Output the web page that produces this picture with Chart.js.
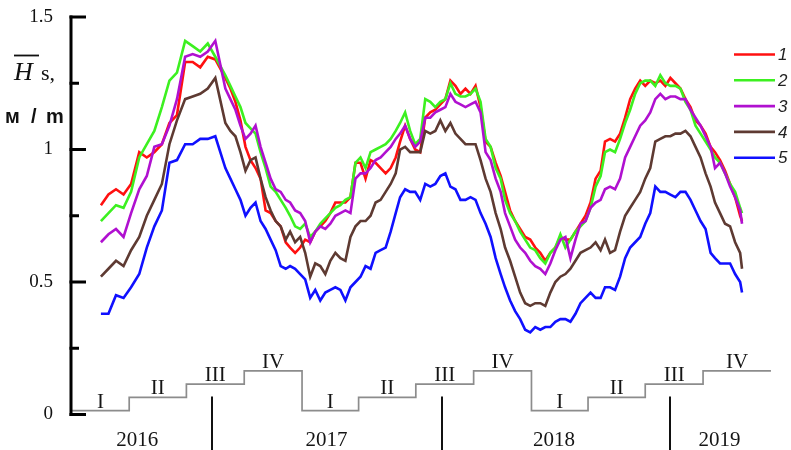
<!DOCTYPE html>
<html>
<head>
<meta charset="utf-8">
<script src="https://cdn.jsdelivr.net/npm/chart.js@4.4.1/dist/chart.umd.min.js"></script>
<style>
  html, body { margin: 0; padding: 0; background: #fff; }
  #wrap { width: 791px; height: 450px; }
</style>
</head>
<body>
<div id="wrap"><canvas id="c" width="791" height="450"></canvas></div>
<script>
// Sampling days, counted from 1 January 2016
const sampleDay = [
  46, 58, 70, 82, 94, 107, 119, 131, 143, 155, 167, 180, 192, 204, 216, 228,
  244, 252, 260, 268, 276, 284, 292, 300, 308, 316, 324, 332, 340, 347, 355, 363, 371, 379, 387, 395, 403, 411, 419, 427, 435, 443, 451, 459,
  467, 475, 483, 491, 499, 507, 515, 522, 530, 538, 546, 554, 562, 570, 578, 586, 594, 602, 610, 618, 626, 634, 642, 650,
  658, 666, 674, 682, 689, 697, 705, 713, 721, 729, 737, 745, 753, 761, 769, 777, 785, 793, 801, 809, 817, 825, 833, 841, 848, 856,
  864, 872, 880, 888, 896, 904, 912, 920, 928, 936, 944, 952, 960, 968, 976, 984, 992, 1000, 1008, 1016, 1023, 1031, 1039, 1047, 1055, 1063, 1066
];

// Mean significant wave height, m
const series1 = [
  0.79, 0.83, 0.85, 0.83, 0.87, 0.99, 0.97, 0.99, 1.02, 1.10, 1.13, 1.33, 1.33, 1.31, 1.35, 1.34,
  1.27, 1.23, 1.18, 1.11, 1.01, 0.96, 0.93, 0.89, 0.77, 0.76, 0.73, 0.71, 0.65, 0.63, 0.61, 0.63, 0.66, 0.65, 0.69, 0.71, 0.73, 0.76, 0.80, 0.80, 0.80, 0.82, 0.95, 0.95,
  0.89, 0.96, 0.95, 0.93, 0.91, 0.93, 0.97, 1.03, 1.09, 1.04, 1.00, 0.99, 1.12, 1.14, 1.15, 1.17, 1.19, 1.26, 1.24, 1.21, 1.23, 1.21, 1.24, 1.16,
  1.03, 1.01, 0.95, 0.90, 0.84, 0.77, 0.73, 0.70, 0.67, 0.66, 0.63, 0.61, 0.58, 0.61, 0.63, 0.67, 0.66, 0.66, 0.69, 0.72, 0.75, 0.80, 0.89, 0.92, 1.03, 1.04,
  1.03, 1.06, 1.12, 1.19, 1.23, 1.26, 1.24, 1.26, 1.25, 1.26, 1.24, 1.27, 1.25, 1.23, 1.19, 1.16, 1.11, 1.09, 1.06, 1.01, 0.99, 0.96, 0.92, 0.87, 0.82, 0.75, 0.73
];
const series2 = [
  0.73, 0.76, 0.79, 0.78, 0.84, 0.97, 1.02, 1.07, 1.16, 1.26, 1.29, 1.41, 1.39, 1.37, 1.40, 1.35,
  1.28, 1.24, 1.20, 1.16, 1.10, 1.08, 1.06, 0.99, 0.93, 0.86, 0.84, 0.81, 0.78, 0.75, 0.71, 0.70, 0.72, 0.67, 0.69, 0.72, 0.74, 0.76, 0.78, 0.79, 0.81, 0.82, 0.95, 0.97,
  0.93, 0.99, 1.00, 1.01, 1.02, 1.04, 1.07, 1.10, 1.14, 1.07, 1.02, 1.04, 1.19, 1.18, 1.16, 1.18, 1.19, 1.25, 1.21, 1.20, 1.20, 1.21, 1.23, 1.18,
  1.04, 1.01, 0.93, 0.89, 0.81, 0.76, 0.73, 0.69, 0.66, 0.63, 0.62, 0.59, 0.57, 0.61, 0.63, 0.68, 0.63, 0.66, 0.69, 0.71, 0.73, 0.78, 0.86, 0.90, 0.99, 1.00,
  0.99, 1.04, 1.10, 1.15, 1.21, 1.25, 1.26, 1.26, 1.24, 1.28, 1.25, 1.24, 1.24, 1.23, 1.18, 1.15, 1.09, 1.06, 1.03, 1.00, 0.97, 0.95, 0.91, 0.87, 0.84, 0.78, 0.76
];
const series3 = [
  0.65, 0.68, 0.70, 0.67, 0.76, 0.85, 0.90, 1.01, 1.02, 1.09, 1.19, 1.35, 1.36, 1.35, 1.37, 1.41,
  1.23, 1.19, 1.15, 1.09, 1.04, 1.06, 1.09, 1.01, 0.95, 0.89, 0.85, 0.84, 0.81, 0.80, 0.77, 0.76, 0.73, 0.65, 0.69, 0.71, 0.70, 0.72, 0.75, 0.76, 0.77, 0.76, 0.89, 0.91,
  0.91, 0.93, 0.96, 0.97, 0.99, 1.01, 1.04, 1.06, 1.09, 1.04, 1.01, 1.03, 1.12, 1.12, 1.14, 1.15, 1.16, 1.21, 1.18, 1.17, 1.16, 1.17, 1.18, 1.14,
  0.99, 0.96, 0.89, 0.84, 0.76, 0.71, 0.66, 0.63, 0.61, 0.58, 0.56, 0.55, 0.53, 0.57, 0.62, 0.66, 0.67, 0.59, 0.66, 0.72, 0.73, 0.78, 0.80, 0.81, 0.85, 0.86,
  0.85, 0.89, 0.97, 1.01, 1.05, 1.09, 1.11, 1.14, 1.19, 1.21, 1.19, 1.20, 1.20, 1.19, 1.19, 1.15, 1.12, 1.09, 1.05, 1.01, 0.93, 0.95, 0.91, 0.86, 0.82, 0.77, 0.72
];
const series4 = [
  0.52, 0.55, 0.58, 0.56, 0.62, 0.67, 0.75, 0.81, 0.87, 1.02, 1.11, 1.19, 1.20, 1.21, 1.23, 1.27,
  1.10, 1.07, 1.05, 0.99, 0.92, 0.96, 0.97, 0.89, 0.82, 0.77, 0.73, 0.71, 0.66, 0.69, 0.65, 0.67, 0.61, 0.52, 0.57, 0.56, 0.53, 0.58, 0.61, 0.59, 0.58, 0.67, 0.71, 0.73,
  0.73, 0.75, 0.80, 0.81, 0.84, 0.87, 0.91, 1.00, 1.01, 0.99, 0.99, 0.99, 1.07, 1.06, 1.07, 1.11, 1.07, 1.10, 1.06, 1.04, 1.02, 1.02, 1.02, 0.96,
  0.89, 0.84, 0.76, 0.70, 0.63, 0.58, 0.52, 0.46, 0.42, 0.41, 0.42, 0.42, 0.41, 0.46, 0.50, 0.52, 0.53, 0.55, 0.58, 0.61, 0.62, 0.63, 0.65, 0.62, 0.66, 0.61,
  0.62, 0.69, 0.75, 0.78, 0.81, 0.84, 0.89, 0.93, 1.03, 1.04, 1.05, 1.05, 1.06, 1.06, 1.07, 1.05, 1.01, 0.97, 0.91, 0.86, 0.80, 0.76, 0.72, 0.71, 0.65, 0.61, 0.55
];
const series5 = [
  0.38, 0.38, 0.45, 0.44, 0.48, 0.53, 0.63, 0.71, 0.77, 0.95, 0.96, 1.02, 1.02, 1.04, 1.04, 1.05,
  0.93, 0.89, 0.85, 0.81, 0.75, 0.78, 0.80, 0.73, 0.70, 0.66, 0.62, 0.56, 0.55, 0.56, 0.55, 0.53, 0.51, 0.44, 0.47, 0.43, 0.46, 0.47, 0.48, 0.47, 0.43, 0.48, 0.50, 0.52,
  0.56, 0.55, 0.61, 0.62, 0.63, 0.69, 0.76, 0.82, 0.85, 0.84, 0.84, 0.81, 0.87, 0.86, 0.87, 0.90, 0.91, 0.86, 0.85, 0.81, 0.81, 0.82, 0.81, 0.76,
  0.72, 0.67, 0.59, 0.53, 0.48, 0.43, 0.39, 0.36, 0.32, 0.31, 0.33, 0.32, 0.33, 0.33, 0.35, 0.36, 0.36, 0.35, 0.38, 0.42, 0.44, 0.46, 0.44, 0.44, 0.48, 0.48,
  0.47, 0.52, 0.59, 0.63, 0.65, 0.67, 0.72, 0.76, 0.86, 0.84, 0.84, 0.83, 0.82, 0.84, 0.84, 0.81, 0.77, 0.73, 0.70, 0.61, 0.59, 0.57, 0.57, 0.57, 0.53, 0.50, 0.46
];

const seriesLabels = ['1', '2', '3', '4', '5'];
const seriesColors = ['#ff1010', '#3cf020', '#b010d0', '#5e3a32', '#1010ff'];

// Calendar quarters shown as a staircase under the curves
const quarterStart = [0, 91, 182, 274, 366, 456, 547, 639, 731, 821, 912, 1004];
const quarterNames = ['I', 'II', 'III', 'IV', 'I', 'II', 'III', 'IV', 'I', 'II', 'III', 'IV'];
const quarterLevel = [0.015, 0.065, 0.115, 0.165, 0.015, 0.065, 0.115, 0.165, 0.015, 0.065, 0.115, 0.165];
const stairEndDay = 1112;

// Year captions and separators along the bottom
const yearNames = ['2016', '2017', '2018', '2019'];
const yearLabelDay = [104, 405, 767, 1030];
const yearBreakDay = [222, 588, 951];

const yMin = 0, yMax = 1.5, yMajorStep = 0.5, yMinorStep = 0.25;
const xMinDay = 0, xMaxDay = 1128;

const seriesValues = [series1, series2, series3, series4, series5];

const datasets = seriesValues.map((vals, i) => ({
  label: seriesLabels[i],
  data: vals.map((v, k) => ({ x: sampleDay[k], y: v })),
  borderColor: seriesColors[i],
  borderWidth: 2.6,
  pointRadius: 0,
  tension: 0,
  fill: false,
  order: 5 - i
}));

const stairPoints = quarterStart.map((d, k) => ({ x: d, y: quarterLevel[k] }));
stairPoints.push({ x: stairEndDay, y: quarterLevel[quarterLevel.length - 1] });
datasets.push({
  label: 'quarters',
  data: stairPoints,
  borderColor: '#8c8c8c',
  borderWidth: 1.7,
  pointRadius: 0,
  stepped: 'before',
  fill: false,
  order: 20
});

const SERIF = '"Liberation Serif", "Times New Roman", serif';
const SANS = '"Liberation Sans", Arial, sans-serif';

const decorations = {
  id: 'decorations',
  afterDatasetsDraw(chart) {
    const { ctx, chartArea: a, scales: { x, y } } = chart;
    ctx.save();

    // vertical axis with inward ticks
    ctx.strokeStyle = '#000';
    ctx.lineWidth = 3;
    ctx.lineCap = 'butt';
    const axisX = a.left - 1;
    ctx.beginPath();
    ctx.moveTo(axisX, y.getPixelForValue(yMax) - 1.5);
    ctx.lineTo(axisX, y.getPixelForValue(yMin) + 1.5);
    ctx.stroke();
    for (let v = yMin; v <= yMax + 1e-9; v += yMinorStep) {
      const major = Math.abs(v / yMajorStep - Math.round(v / yMajorStep)) < 1e-6;
      const py = y.getPixelForValue(v);
      ctx.beginPath();
      ctx.moveTo(axisX - 1.5, py);
      ctx.lineTo(a.left + (major ? 14 : 7), py);
      ctx.stroke();
    }

    // quarter numerals above each step
    ctx.fillStyle = '#151515';
    ctx.font = '21px ' + SERIF;
    ctx.textAlign = 'center';
    ctx.textBaseline = 'alphabetic';
    quarterNames.forEach((name, k) => {
      const d0 = quarterStart[k];
      const d1 = k + 1 < quarterStart.length ? quarterStart[k + 1] : stairEndDay;
      const cx = (x.getPixelForValue(d0) + x.getPixelForValue(d1)) / 2;
      ctx.fillText(name, cx, y.getPixelForValue(quarterLevel[k]) - 3);
    });

    // year separators and captions
    ctx.strokeStyle = '#111';
    ctx.lineWidth = 2;
    yearBreakDay.forEach(d => {
      const px = Math.round(x.getPixelForValue(d));
      ctx.beginPath();
      ctx.moveTo(px, a.bottom - 18);
      ctx.lineTo(px, chart.height);
      ctx.stroke();
    });
    ctx.font = '21px ' + SERIF;
    yearNames.forEach((name, k) => {
      ctx.fillText(name, x.getPixelForValue(yearLabelDay[k]), a.bottom + 31.5);
    });

    // legend
    ctx.textAlign = 'left';
    ctx.textBaseline = 'middle';
    ctx.font = 'italic 17px ' + SANS;
    seriesLabels.forEach((lab, i) => {
      const ly = 54.5 + i * 25.8;
      ctx.strokeStyle = seriesColors[i];
      ctx.lineWidth = 2.6;
      ctx.beginPath();
      ctx.moveTo(734, ly);
      ctx.lineTo(775, ly);
      ctx.stroke();
      ctx.fillStyle = '#222';
      ctx.fillText(lab, 778, ly + 1);
    });

    // axis title: overlined H with s, and units
    ctx.fillStyle = '#111';
    ctx.textBaseline = 'alphabetic';
    ctx.font = 'italic 26px ' + SERIF;
    ctx.fillText('H', 14, 80);
    ctx.strokeStyle = '#111';
    ctx.lineWidth = 1.8;
    ctx.beginPath();
    ctx.moveTo(14, 55.5);
    ctx.lineTo(39, 55.5);
    ctx.stroke();
    ctx.font = '22px ' + SERIF;
    ctx.fillText('s,', 41, 80);
    ctx.font = 'bold 20px ' + SANS;
    ctx.fillText('м', 5, 123);
    ctx.fillText('/', 31, 123);
    ctx.fillText('m', 46, 123);

    ctx.restore();
  }
};

new Chart(document.getElementById('c'), {
  type: 'line',
  data: { datasets },
  options: {
    responsive: false,
    animation: false,
    devicePixelRatio: 1,
    layout: { padding: { top: 17, bottom: 35.5, left: 0, right: 10 } },
    plugins: { legend: { display: false }, tooltip: { enabled: false } },
    scales: {
      x: { type: 'linear', min: xMinDay, max: xMaxDay, display: false },
      y: {
        min: yMin, max: yMax,
        afterFit(scale) {
          scale.width = 72;
          scale.paddingTop = 0;
          scale.paddingBottom = 0;
        },
        grid: { display: false, drawTicks: false },
        border: { display: false },
        ticks: {
          stepSize: yMajorStep,
          padding: 19,
          color: '#111',
          font: { family: SERIF, size: 19 },
          callback: v => String(v)
        }
      }
    }
  },
  plugins: [decorations]
});
</script>
</body>
</html>
